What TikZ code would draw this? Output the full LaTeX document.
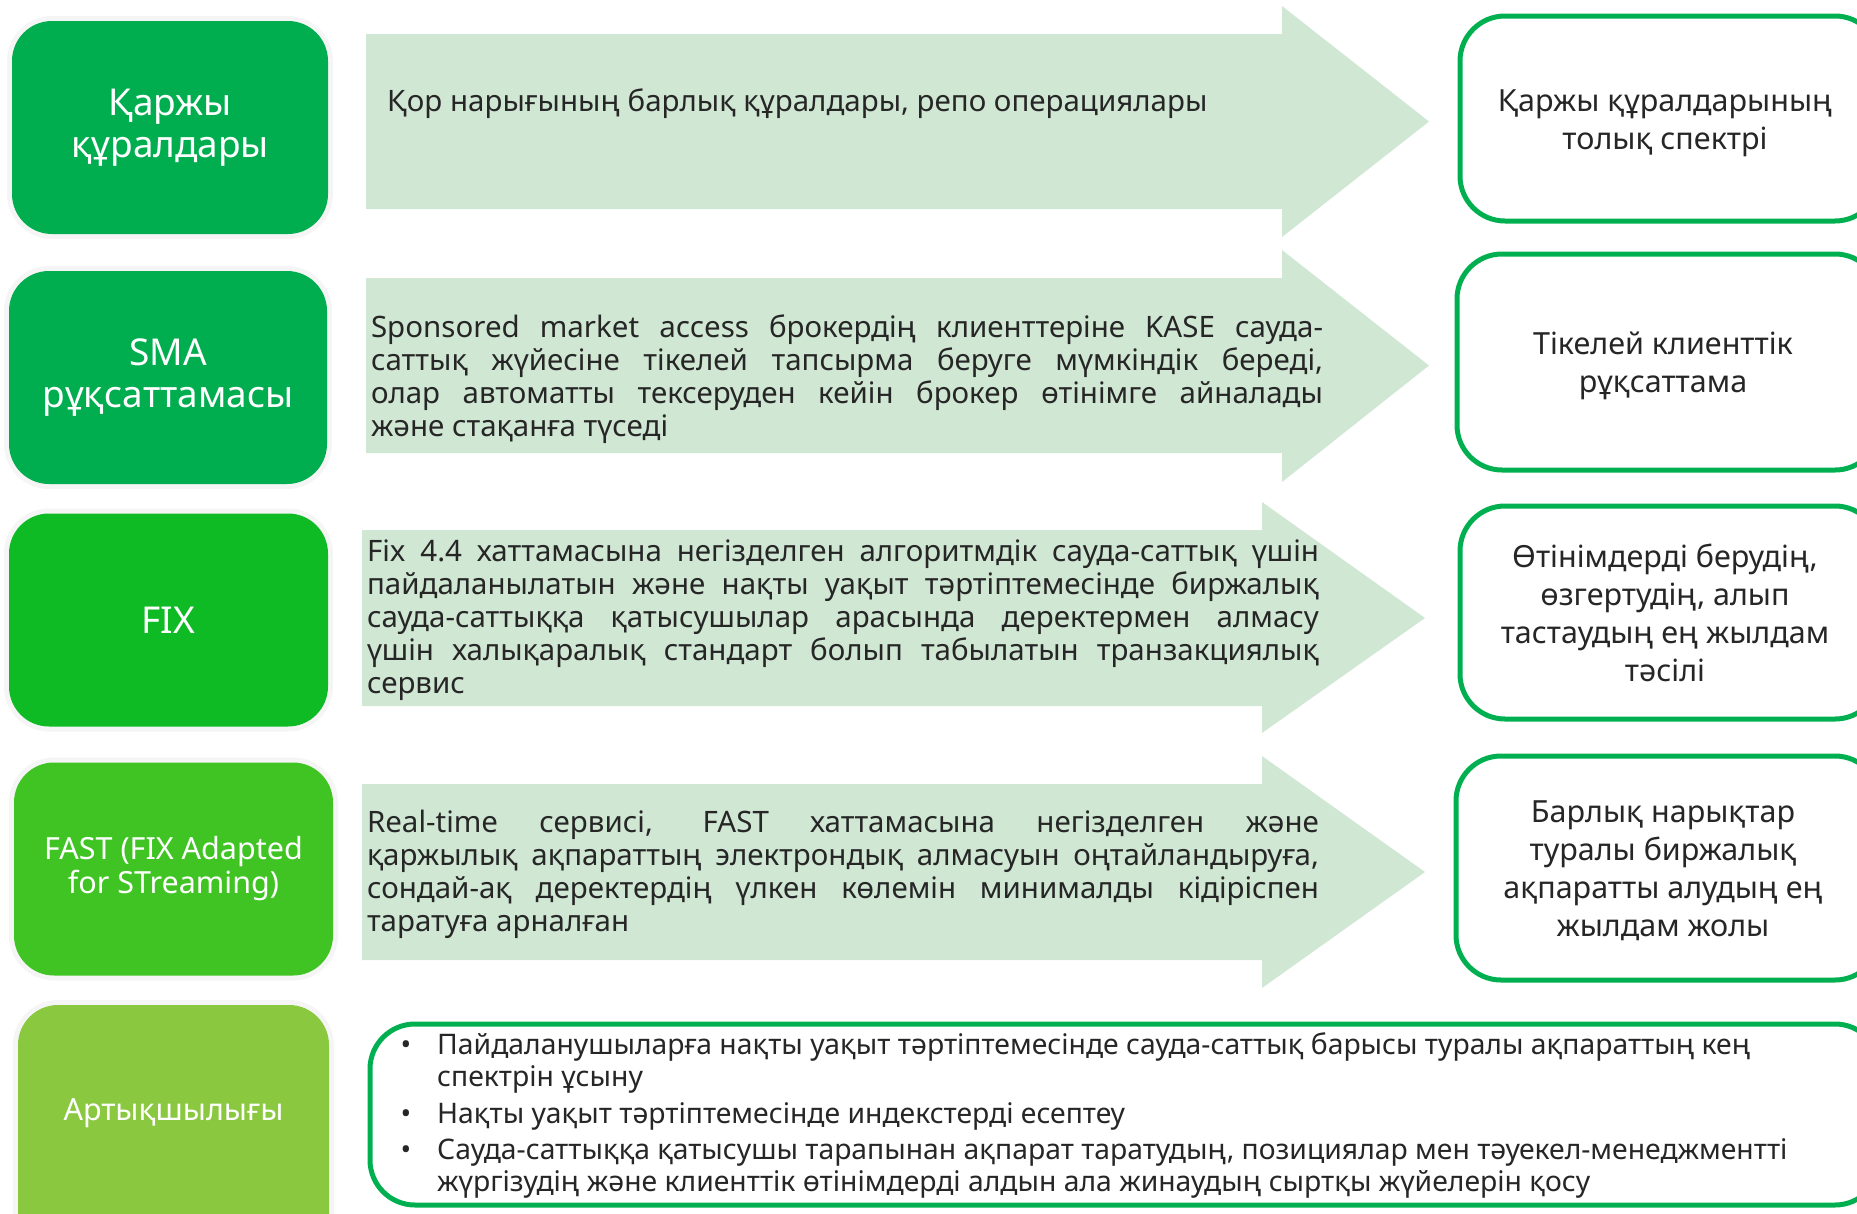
\documentclass[tikz,border=0pt]{standalone}
\usepackage{fontspec}
\setmainfont{Noto Sans}
\usepackage{xcolor}
\usetikzlibrary{positioning}

\definecolor{kaseGreen}{HTML}{00AE4F}
\definecolor{fixGreen}{HTML}{0FBB25}
\definecolor{fastGreen}{HTML}{3FC423}
\definecolor{plusGreen}{HTML}{8AC83F}
\definecolor{arrowMint}{HTML}{D0E7D4}
\definecolor{lineGreen}{HTML}{00B050}
\definecolor{textGray}{HTML}{262626}

\tikzset{
  catbox/.style={rounded corners=40pt, minimum width=318pt, minimum height=213pt,
    inner sep=0pt, align=center, text=white, font=\fontsize{37}{42}\selectfont,
    preaction={draw=black!4, line width=10pt}},
  arrowbody/.style={fill=arrowMint},
  flowtext/.style={text width=952pt, align=justify, inner sep=0pt, text=textGray,
    font=\fontsize{29.5}{33}\selectfont},
  resbox/.style={draw=lineGreen, line width=5pt, rounded corners=45pt, fill=white},
  restext/.style={align=center, inner sep=0pt, text=textGray,
    font=\fontsize{30.5}{38}\selectfont},
  itemtext/.style={align=left, inner sep=0pt, text=textGray,
    font=\fontsize{28.3}{32}\selectfont},
}

\begin{document}
\begin{tikzpicture}[x=1pt, y=-1pt]
    \useasboundingbox (0,0) rectangle (1857,1213);
    \clip (0,0) rectangle (1857,1213);
    % Category boxes
    \node[catbox, fill=kaseGreen, minimum width=316pt] (instr) at (170,127.5) {Қаржы\\құралдары};
    \node[catbox, fill=kaseGreen] (sma) at (168,377.5) {SMA\\рұқсаттамасы};
    \node[catbox, fill=fixGreen, minimum width=319pt] (fix) at (168.5,620) {FIX};
    \node[catbox, fill=fastGreen, minimum width=319pt, font=\fontsize{30.5}{34}\selectfont]
        (fast) at (173.5,869) {FAST (FIX Adapted\\for STreaming)};
    \node[catbox, fill=plusGreen, minimum width=311pt, minimum height=260pt] (plus) at (173.5,1135) {};
    \node[text=white, font=\fontsize{30.5}{34}\selectfont] (plustext) at (173.5,1113) {Артықшылығы};
    % Flow arrows
    \fill[arrowbody] (366,34) -- (1282,34) -- (1282,6) -- (1429,121.5)
        -- (1282,237) -- (1282,209) -- (366,209) -- cycle;
    \fill[arrowbody] (366,278) -- (1282,278) -- (1282,250) -- (1429,365.5)
        -- (1282,482) -- (1282,453) -- (366,453) -- cycle;
    \fill[arrowbody] (362,530) -- (1262,530) -- (1262,502) -- (1425,618)
        -- (1262,733) -- (1262,706) -- (362,706) -- cycle;
    \fill[arrowbody] (362,784) -- (1262,784) -- (1262,756) -- (1425,872)
        -- (1262,988) -- (1262,960) -- (362,960) -- cycle;
    % Texts on the arrows
    \node[text=textGray, inner sep=0pt, anchor=base west, font=\fontsize{29.5}{33}\selectfont]
        (instrtext) at (387,111) {Қор нарығының барлық құралдары, репо операциялары};
    \node[flowtext] (smatext) at (847,379)
        {Sponsored market access брокердің клиенттеріне KASE сауда-\linebreak
         саттық жүйесіне тікелей тапсырма беруге мүмкіндік береді,\linebreak
         олар автоматты тексеруден кейін брокер өтінімге айналады\linebreak
         және стақанға түседі};
    \node[flowtext] (fixtext) at (843,620)
        {Fix 4.4 хаттамасына негізделген алгоритмдік сауда-саттық үшін\linebreak
         пайдаланылатын және нақты уақыт тәртіптемесінде биржалық\linebreak
         сауда-саттыққа қатысушылар арасында деректермен алмасу\linebreak
         үшін халықаралық стандарт болып табылатын транзакциялық\linebreak
         сервис};
    \node[flowtext] (fasttext) at (843,874.5)
        {Real-time сервисі, FAST хаттамасына негізделген және\linebreak
         қаржылық ақпараттың электрондық алмасуын оңтайландыруға,\linebreak
         сондай-ақ деректердің үлкен көлемін минималды кідіріспен\linebreak
         таратуға арналған};
    % Result boxes
    \draw[resbox] (1460,16) rectangle (1880,221);
    \draw[resbox] (1457,254) rectangle (1880,470);
    \draw[resbox] (1460,506) rectangle (1880,719);
    \draw[resbox] (1456,756) rectangle (1880,980);
    \node[restext] (instrres) at (1665,123) {Қаржы құралдарының\\толық спектрі};
    \node[restext] (smares) at (1663,365.5) {Тікелей клиенттік\\рұқсаттама};
    \node[restext] (fixres) at (1665,613) {Өтінімдерді берудің,\\өзгертудің, алып\\тастаудың ең жылдам\\тәсілі};
    \node[restext] (fastres) at (1663,870.5) {Барлық нарықтар\\туралы биржалық\\ақпаратты алудың ең\\жылдам жолы};
    % Advantages list
    \draw[resbox] (370,1024) rectangle (1880,1205);
    \node[itemtext, anchor=base west] (adv1) at (437,1086)
        {Пайдаланушыларға нақты уақыт тәртіптемесінде сауда-саттық барысы туралы ақпараттың кең\\спектрін ұсыну};
    \node[itemtext, anchor=base west] (adv2) at (437,1123)
        {Нақты уақыт тәртіптемесінде индекстерді есептеу};
    \node[itemtext, anchor=base west] (adv3) at (437,1191)
        {Сауда-саттыққа қатысушы тарапынан ақпарат таратудың, позициялар мен тәуекел-менеджментті\\жүргізудің және клиенттік өтінімдерді алдын ала жинаудың сыртқы жүйелерін қосу};
    \node[itemtext, anchor=base] (dot1) at ([xshift=-31pt, yshift=32pt]adv1.base west) {•};
    \node[itemtext, anchor=base] (dot2) at ([xshift=-31pt]adv2.base west) {•};
    \node[itemtext, anchor=base] (dot3) at ([xshift=-31pt, yshift=32pt]adv3.base west) {•};
\end{tikzpicture}
\end{document}
